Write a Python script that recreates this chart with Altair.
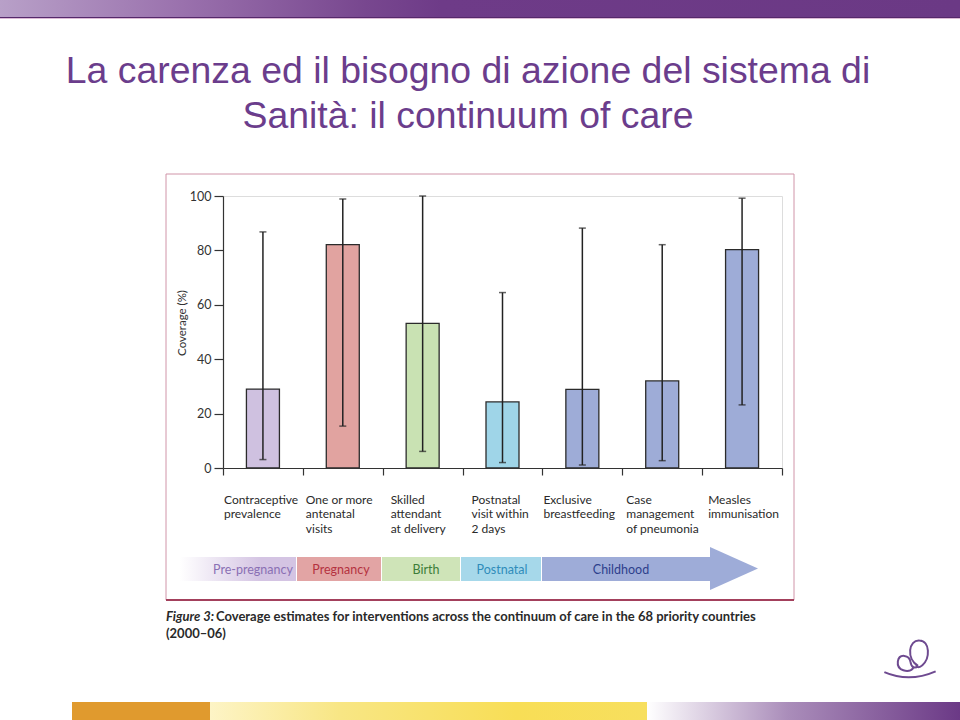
import altair as alt
import pandas as pd

# ---------------- data ----------------
categories = [
    "Contraceptive prevalence",
    "One or more antenatal visits",
    "Skilled attendant at delivery",
    "Postnatal visit within 2 days",
    "Exclusive breastfeeding",
    "Case management of pneumonia",
    "Measles immunisation",
]
category_lines = [
    ["Contraceptive", "prevalence"],
    ["One or more", "antenatal", "visits"],
    ["Skilled", "attendant", "at delivery"],
    ["Postnatal", "visit within", "2 days"],
    ["Exclusive", "breastfeeding"],
    ["Case", "management", "of pneumonia"],
    ["Measles", "immunisation"],
]
coverage = [29.0, 82.1, 53.2, 24.3, 28.9, 32.0, 80.3]
range_low = [3.1, 15.4, 6.1, 2.0, 1.1, 2.7, 23.2]
range_high = [86.8, 98.9, 100.0, 64.5, 88.2, 82.1, 99.2]
y_ticks = [0, 20, 40, 60, 80, 100]
phases = ["Pre-pregnancy", "Pregnancy", "Birth", "Postnatal", "Childhood"]

title_lines = ["La carenza ed il bisogno di azione del sistema di",
               "Sanità: il continuum of care"]
y_title = "Coverage (%)"
caption_lead = "Figure 3:"
caption_text = "Coverage estimates for interventions across the continuum of care in the 68 priority countries"
caption_line2 = "(2000–06)"

# ---------------- styles ----------------
bar_colors = ["#cfc1e0", "#e1a3a0", "#c9e2b3", "#9fd5e8", "#9eacd7", "#9eacd7", "#9eacd7"]
label_dx = [1, 3, 8, 9, 1, 4, 6]          # offset of each label from its band start
phase_fill = ["#d4c4e3", "#e2a4a4", "#cfe4b8", "#a6d8ea", "#9eacd8"]
phase_text = ["#8a70b4", "#b5323f", "#3d7d38", "#2f8cba", "#2d3f8c"]
phase_x = [180, 297, 382, 461, 542, 711]   # segment edges (px)
phase_tx = [253, 341, 426, 502, 621]       # label centres (px)

PLOT_W, PLOT_H = 559, 272
OX, OY = 223, 196
BAND = PLOT_W / len(categories)


def X(v):
    return v - OX


def Y(v):
    return v - OY


one = alt.Data(values=[{"k": 1}])


def rect(x1, x2, y1, y2, **kw):
    return alt.Chart(one).mark_rect(**kw).encode(
        x=alt.value(X(x1)), x2=alt.value(X(x2)),
        y=alt.value(Y(y1)), y2=alt.value(Y(y2)))


def text(s, x, y, **kw):
    return alt.Chart(one).mark_text(text=s, **kw).encode(
        x=alt.value(X(x)), y=alt.value(Y(y)))


def hgrad(stops):
    return alt.LinearGradient(
        gradient="linear", x1=0, x2=1, y1=0, y2=0,
        stops=[alt.GradientStop(color=c, offset=o) for o, c in stops])


df = pd.DataFrame({
    "category": categories,
    "label": ["\n".join(l) for l in category_lines],
    "coverage": coverage,
    "low": range_low,
    "high": range_high,
})

xscale = alt.Scale(type="band", paddingInner=0, paddingOuter=0)


def xenc(axis=None):
    if axis is None:
        return alt.X("category:N", sort=categories, scale=xscale, title=None)
    return alt.X("category:N", sort=categories, scale=xscale, title=None, axis=axis)


x_axis = alt.Axis(labels=False, tickBand="extent", domainColor="#333333",
                  tickColor="#333333", tickSize=7, tickWidth=1.2, domainWidth=1.2,
                  grid=False, zindex=2)
y_axis = alt.Axis(values=y_ticks, tickSize=9, labelPadding=3, labelFont="Lato",
                  labelFontSize=12.5, labelColor="#333333", domainColor="#333333",
                  tickColor="#333333", tickWidth=1.2, domainWidth=1.2, grid=False,
                  zindex=2)
yscale = alt.Scale(domain=[0, 100], nice=False)

bars = alt.Chart(df).mark_bar(size=33, stroke="#2b2b2b", strokeWidth=1.3).encode(
    x=xenc(x_axis),
    y=alt.Y("coverage:Q", scale=yscale, axis=y_axis, title=None),
    color=alt.Color("category:N", scale=alt.Scale(domain=categories, range=bar_colors),
                    legend=None),
)
rules = alt.Chart(df).mark_rule(color="#222222", strokeWidth=1.5).encode(
    x=xenc(), y=alt.Y("low:Q", title=None), y2="high:Q")
caps_hi = alt.Chart(df).mark_tick(color="#222222", size=7, thickness=1.5,
                                  orient="horizontal").encode(
    x=xenc(), y=alt.Y("high:Q", title=None))
caps_lo = alt.Chart(df).mark_tick(color="#222222", size=7, thickness=1.5,
                                  orient="horizontal").encode(
    x=xenc(), y=alt.Y("low:Q", title=None))

label_layers = []
for cat, dx in zip(categories, label_dx):
    label_layers.append(
        alt.Chart(df).transform_filter(alt.datum.category == cat).mark_text(
            align="left", baseline="top", lineBreak="\n", lineHeight=14.5,
            font="Lato", fontSize=12, color="#2a2a2a", dx=-BAND / 2 + dx,
        ).encode(x=xenc(), y=alt.value(Y(494.5)), text="label:N")
    )

# ---------------- decorations ----------------
deco = []
# top band
deco.append(rect(0, 960, 0, 17, fill=hgrad([(0, "#b8a0c8"), (0.19, "#9a71ad"),
                                            (0.38, "#78478f"), (0.46, "#6e3b88"),
                                            (1, "#6b3985")])))
deco.append(rect(0, 960, 17, 18, fill="#55286b"))
deco.append(rect(0, 960, 18, 19, fill="#dcbad6"))
# bottom band
deco.append(rect(72, 210, 702, 720, fill="#e09a2e"))
deco.append(rect(210, 647, 702, 720, fill=hgrad([(0, "#fdf4c6"), (0.3, "#f8e684"),
                                                 (0.7, "#f8de56"), (1, "#f7df5e")])))
deco.append(rect(647, 960, 702, 720, fill=hgrad([(0, "#ffffff"), (0.45, "#aa8dba"),
                                                 (1, "#6b3986")])))
# figure frame
deco.append(rect(166, 794, 174, 600, filled=False, stroke="#d094a8", strokeWidth=1))
deco.append(rect(166, 794, 599, 601, fill="#a3405c"))

# phase arrow
arrow = []
arrow.append(rect(phase_x[0], phase_x[1] - 1, 557, 581,
                  fill=hgrad([(0, "#ffffff"), (0.7, phase_fill[0]), (1, phase_fill[0])])))
for i in range(1, 5):
    arrow.append(rect(phase_x[i], phase_x[i + 1] - (1 if i < 4 else 0), 557, 581,
                      fill=phase_fill[i]))
arrow.append(
    alt.Chart(one).mark_point(shape="M -1 -0.9 L 1 0 L -1 0.9 Z", size=48 * 48,
                              filled=True, fill=phase_fill[4], strokeWidth=0,
                              opacity=1).encode(
        x=alt.value(X(734)), y=alt.value(Y(568.5))))
for name, tx, col in zip(phases, phase_tx, phase_text):
    arrow.append(text(name, tx, 569.5, font="Lato", fontSize=12.5, color=col,
                      align="center", baseline="middle"))

# titles and captions
texts = []
texts.append(text(title_lines[0], 468, 82.7, font="Liberation Sans", fontSize=37.4,
                  color="#6b3d8c", align="center", baseline="alphabetic"))
texts.append(text(title_lines[1], 468, 127.5, font="Liberation Sans", fontSize=37.4,
                  color="#6b3d8c", align="center", baseline="alphabetic"))
texts.append(text(y_title, 183, 323, font="Lato", fontSize=11.5, color="#333333",
                  angle=270, align="center", baseline="middle"))
texts.append(text(caption_lead, 166, 621, font="Lato", fontSize=13,
                  fontStyle="italic", fontWeight="bold", color="#2a2a2a",
                  align="left", baseline="alphabetic"))
texts.append(text(caption_text, 216, 621, font="Lato", fontSize=13,
                  fontWeight="bold", color="#2a2a2a", align="left",
                  baseline="alphabetic"))
texts.append(text(caption_line2, 166, 638, font="Lato", fontSize=13,
                  fontWeight="bold", color="#2a2a2a", align="left",
                  baseline="alphabetic"))

# logo
logo_path = ("M -0.95 0.45 Q -0.03 0.85 0.95 0.42 "
             "M 0.12 0.3 C -0.05 0.5 -0.5 0.4 -0.45 0.05 C -0.4 -0.25 -0.02 -0.2 0.02 0.08 "
             "C 0.05 0.3 0.2 0.32 0.3 0.22 "
             "M 0.3 0.22 C -0.15 -0.05 -0.05 -0.75 0.35 -0.72 C 0.75 -0.7 0.75 -0.05 0.45 0.2 "
             "C 0.35 0.3 0.22 0.28 0.24 0.16")
logo = alt.Chart(one).mark_point(shape=logo_path, size=54 * 54, filled=False,
                                 stroke="#6e4a90", strokeWidth=2, opacity=1).encode(
    x=alt.value(X(910)), y=alt.value(Y(660)))

chart = alt.layer(
    *deco, *arrow, bars, rules, caps_hi, caps_lo, *label_layers, *texts, logo
).properties(
    width=PLOT_W, height=PLOT_H, autosize="none",
    padding={"left": OX, "top": OY, "right": 960 - OX - PLOT_W,
             "bottom": 720 - OY - PLOT_H},
).configure_view(strokeWidth=0).configure(background="white")

chart.save("out.html", embed_options={"renderer": "svg", "actions": False})
